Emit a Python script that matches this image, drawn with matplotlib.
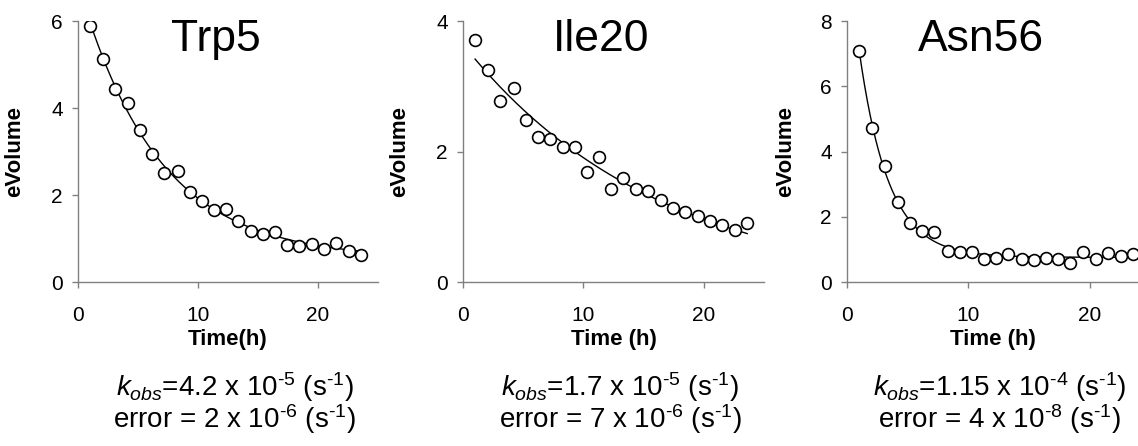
import numpy as np
import matplotlib
matplotlib.use("Agg")
import matplotlib.pyplot as plt

plt.rcParams['font.family'] = ['Liberation Sans', 'DejaVu Sans']
plt.rcParams['mathtext.fontset'] = 'custom'
plt.rcParams['mathtext.rm'] = 'Liberation Sans'
plt.rcParams['mathtext.it'] = 'Liberation Sans:italic'

# sampling times (h), same for every residue
time_h = [1.0, 2.1, 3.1, 4.2, 5.2, 6.2, 7.2, 8.3, 9.3, 10.3, 11.3, 12.3,
          13.3, 14.4, 15.4, 16.4, 17.4, 18.4, 19.5, 20.5, 21.5, 22.6, 23.6]

trp5 = [5.88, 5.12, 4.44, 4.11, 3.49, 2.94, 2.51, 2.56, 2.07, 1.86, 1.66, 1.68,
        1.40, 1.18, 1.10, 1.16, 0.85, 0.83, 0.87, 0.77, 0.89, 0.72, 0.62]
ile20 = [3.71, 3.25, 2.78, 2.98, 2.48, 2.22, 2.19, 2.07, 2.07, 1.69, 1.92, 1.43,
         1.60, 1.42, 1.39, 1.26, 1.13, 1.07, 1.01, 0.93, 0.87, 0.80, 0.90]
asn56 = [7.08, 4.71, 3.56, 2.44, 1.82, 1.57, 1.52, 0.96, 0.93, 0.93, 0.70, 0.74,
         0.86, 0.70, 0.66, 0.75, 0.70, 0.59, 0.92, 0.70, 0.90, 0.80, 0.85]

residues = ["Trp5", "Ile20", "Asn56"]
volumes = [trp5, ile20, asn56]
xlabels = ["Time(h)", "Time (h)", "Time (h)"]
ymax = [6, 4, 8]
yticks = [[0, 2, 4, 6], [0, 2, 4], [0, 2, 4, 6, 8]]
xmax = [25, 25, 24]

# observed rate constants and errors (s^-1)
k_obs = [4.2e-5, 1.7e-5, 1.15e-4]
k_text = ["4.2", "1.7", "1.15"]
k_exp = ["-5", "-5", "-4"]
err_text = ["2", "7", "4"]
err_exp = ["-6", "-6", "-8"]

# axes boxes in figure fractions
lefts = [0.0685, 0.4069, 0.7443]
widths = [0.2636, 0.2645, 0.2557]
bottom, height = 0.3677, 0.585

fig = plt.figure(figsize=(11.38, 4.46), dpi=100)

for i in range(3):
    ax = fig.add_axes([lefts[i], bottom, widths[i], height])
    t = np.array(time_h)
    v = np.array(volumes[i])

    # single exponential with fixed k, amplitude and offset by least squares
    k_h = k_obs[i] * 3600.0
    design = np.column_stack([np.exp(-k_h * t), np.ones_like(t)])
    (amp, off), *_ = np.linalg.lstsq(design, v, rcond=None)
    tt = np.linspace(t[0], t[-1], 200)
    ax.plot(tt, amp * np.exp(-k_h * tt) + off, color='black', lw=1.0, zorder=2)

    ax.plot(t, v, linestyle='none', marker='o', markersize=8.5,
            markerfacecolor='white', markeredgecolor='black',
            markeredgewidth=1.2, zorder=3)

    ax.set_xlim(0, xmax[i])
    ax.set_ylim(0, ymax[i])
    ax.set_xticks([0, 10, 20])
    ax.set_yticks(yticks[i])
    for side in ['top', 'right']:
        ax.spines[side].set_visible(False)
    for side in ['left', 'bottom']:
        ax.spines[side].set_color('#808080')
        ax.spines[side].set_linewidth(1.0)
    ax.tick_params(axis='both', colors='#808080', labelcolor='black',
                   labelsize=15, length=4, width=1.0)
    ax.tick_params(axis='y', pad=7)
    ax.tick_params(axis='x', pad=13)

    ax.set_ylabel("eVolume", fontsize=16, fontweight='bold')
    ax.yaxis.set_label_coords(-0.175, 0.5)
    ax.set_xlabel(xlabels[i], fontsize=16, fontweight='bold')
    ax.xaxis.set_label_coords(0.5, -0.18)

    ax.text(0.46, 0.885, residues[i], transform=ax.transAxes, fontsize=32,
            ha='center', va='baseline')

    cx = lefts[i] + widths[i] / 2 + 0.006
    line1 = (r"$k_{obs}$=" + k_text[i] + r" x 10$^{\text{" + k_exp[i]
             + r"}}$ (s$^{\text{-1}}$)")
    line2 = ("error = " + err_text[i] + r" x 10$^{\text{" + err_exp[i]
             + r"}}$ (s$^{\text{-1}}$)")
    fig.text(cx, 0.112, line1, fontsize=20, ha='center', va='baseline')
    fig.text(cx, 0.040, line2, fontsize=20, ha='center', va='baseline')

fig.savefig("out.png", dpi=100)
